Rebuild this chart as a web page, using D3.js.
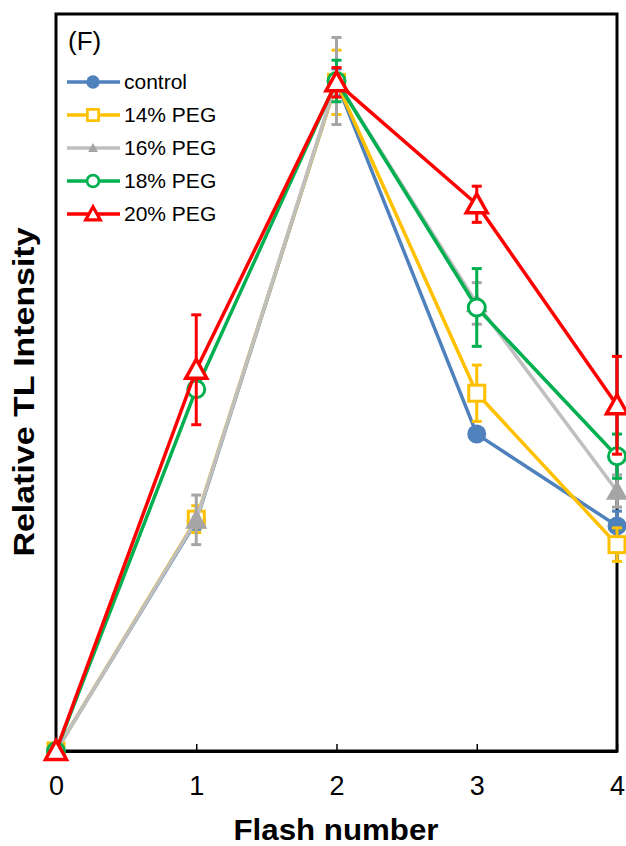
<!DOCTYPE html>
<html>
<head>
<meta charset="utf-8">
<script src="https://cdn.jsdelivr.net/npm/d3@7"></script>
<style>
  html, body { margin: 0; padding: 0; background: #fff; }
  svg { display: block; font-family: Arial, "Liberation Sans", sans-serif; }
</style>
</head>
<body>
<svg id="chart" width="626" height="846"></svg>
<script>
// Flash numbers along the x axis
const flashes = [0, 1, 2, 3, 4];
const xTickLabels = ["0", "1", "2", "3", "4"];

// Relative TL intensity per series (value, standard error)
const controlValues = [0, 0.343, 0.998, 0.473, 0.336];
const controlErrors = [0, 0.012, 0.020, 0.000, 0.022];

const peg14Values = [0, 0.346, 0.998, 0.534, 0.308];
const peg14Errors = [0, 0.020, 0.048, 0.042, 0.025];

const peg16Values = [0, 0.345, 1.000, 0.668, 0.388];
const peg16Errors = [0, 0.037, 0.065, 0.031, 0.024];

const peg18Values = [0, 0.540, 1.000, 0.662, 0.440];
const peg18Errors = [0, 0.010, 0.031, 0.058, 0.033];

const peg20Values = [0, 0.569, 0.998, 0.816, 0.516];
const peg20Errors = [0, 0.082, 0.022, 0.027, 0.073];

const seriesNames = ["control", "14% PEG", "16% PEG", "18% PEG", "20% PEG"];

const series = [
  { name: seriesNames[0], values: controlValues, errors: controlErrors, line: "#4F81BD", mark: "#4F81BD", shape: "circle", filled: true },
  { name: seriesNames[1], values: peg14Values, errors: peg14Errors, line: "#FFC000", mark: "#FFC000", shape: "square", filled: false },
  { name: seriesNames[2], values: peg16Values, errors: peg16Errors, line: "#BFBFBF", mark: "#A5A5A5", shape: "triangle", filled: true },
  { name: seriesNames[3], values: peg18Values, errors: peg18Errors, line: "#00B050", mark: "#00B050", shape: "circle", filled: false },
  { name: seriesNames[4], values: peg20Values, errors: peg20Errors, line: "#FF0000", mark: "#FF0000", shape: "triangle", filled: false }
];

const svg = d3.select("#chart");
const plotLeft = 56, plotRight = 617, plotTop = 14, plotBottom = 751;

const x = d3.scaleLinear().domain([0, 4]).range([plotLeft, plotRight]);
const y = d3.scaleLinear().domain([0, 1.1]).range([plotBottom, plotTop]);

// Plot frame
svg.append("rect")
  .attr("x", plotLeft).attr("y", plotTop)
  .attr("width", plotRight - plotLeft).attr("height", plotBottom - plotTop)
  .attr("fill", "none").attr("stroke", "#000").attr("stroke-width", 3);

// X axis with inward ticks
const xAxis = d3.axisBottom(x).tickValues(flashes)
  .tickFormat((d, i) => xTickLabels[i]).tickSizeInner(-7).tickSizeOuter(0).tickPadding(24);
const gx = svg.append("g").attr("transform", `translate(0,${plotBottom})`).call(xAxis);
gx.select(".domain").attr("stroke", "#000").attr("stroke-width", 3);
gx.selectAll(".tick line").attr("stroke", "#000").attr("stroke-width", 1.5);
gx.selectAll(".tick text").attr("font-size", 27).attr("fill", "#000")
  .attr("font-family", "Arial, 'Liberation Sans', sans-serif")
  .attr("dy", null).attr("y", 44);

// Axis titles
svg.append("text")
  .attr("x", 336).attr("y", 840)
  .attr("text-anchor", "middle").attr("font-size", 29).attr("font-weight", "bold")
  .attr("textLength", 205).attr("lengthAdjust", "spacingAndGlyphs")
  .text("Flash number");
svg.append("text")
  .attr("transform", `translate(34,392) rotate(-90)`)
  .attr("text-anchor", "middle").attr("font-size", 29).attr("font-weight", "bold")
  .attr("textLength", 329).attr("lengthAdjust", "spacingAndGlyphs")
  .text("Relative TL Intensity");

// Panel tag
svg.append("text").attr("x", 68).attr("y", 50).attr("font-size", 26).text("(F)");

function drawMarker(g, s, cx, cy, scale) {
  const fill = s.filled ? s.mark : "#fff";
  if (s.shape === "circle") {
    g.append("circle").attr("cx", cx).attr("cy", cy).attr("r", (s.filled ? 9.5 : 8.5) * scale)
      .attr("fill", fill).attr("stroke", s.mark).attr("stroke-width", s.filled ? 0 : 3 * Math.min(1, scale + 0.2));
  } else if (s.shape === "square") {
    const h = 8 * scale;
    g.append("rect").attr("x", cx - h).attr("y", cy - h).attr("width", 2 * h).attr("height", 2 * h)
      .attr("fill", fill).attr("stroke", s.mark).attr("stroke-width", 3 * Math.min(1, scale + 0.2));
  } else {
    const sz = (s.filled ? 11 : 10.5) * scale;
    const pts = [[cx, cy - sz], [cx + sz, cy + sz * 0.8], [cx - sz, cy + sz * 0.8]];
    g.append("path").attr("d", d3.line()(pts) + "Z")
      .attr("fill", fill).attr("stroke", s.mark)
      .attr("stroke-width", s.filled ? 0 : 3.5 * Math.min(1, scale + 0.2)).attr("stroke-linejoin", "miter");
  }
}

const line = d3.line().x((d, i) => x(flashes[i])).y(d => y(d));

// Series: line, error bars, markers
series.forEach(s => {
  const g = svg.append("g");
  g.append("path").datum(s.values).attr("d", line)
    .attr("fill", "none").attr("stroke", s.line).attr("stroke-width", 3.5).attr("stroke-linejoin", "round");
  s.values.forEach((v, i) => {
    const e = s.errors[i];
    if (e <= 0) return;
    const cx = x(flashes[i]);
    g.append("line").attr("x1", cx).attr("x2", cx).attr("y1", y(v - e)).attr("y2", y(v + e))
      .attr("stroke", s.mark).attr("stroke-width", 3);
    [v - e, v + e].forEach(b => {
      g.append("line").attr("x1", cx - 5).attr("x2", cx + 5).attr("y1", y(b)).attr("y2", y(b))
        .attr("stroke", s.mark).attr("stroke-width", 3);
    });
  });
  s.values.forEach((v, i) => drawMarker(g, s, x(flashes[i]), y(v), 1));
});

// Legend
const legend = svg.append("g");
series.forEach((s, i) => {
  const ly = 82 + i * 33;
  legend.append("line").attr("x1", 67).attr("x2", 120).attr("y1", ly).attr("y2", ly)
    .attr("stroke", s.line).attr("stroke-width", 3.5);
  const sc = s.shape === "triangle" && s.filled ? 0.45 : 0.7;
  drawMarker(legend, s, 93, ly, sc);
  legend.append("text").attr("x", 124).attr("y", ly + 7).attr("font-size", 21).text(s.name);
});
</script>
</body>
</html>
